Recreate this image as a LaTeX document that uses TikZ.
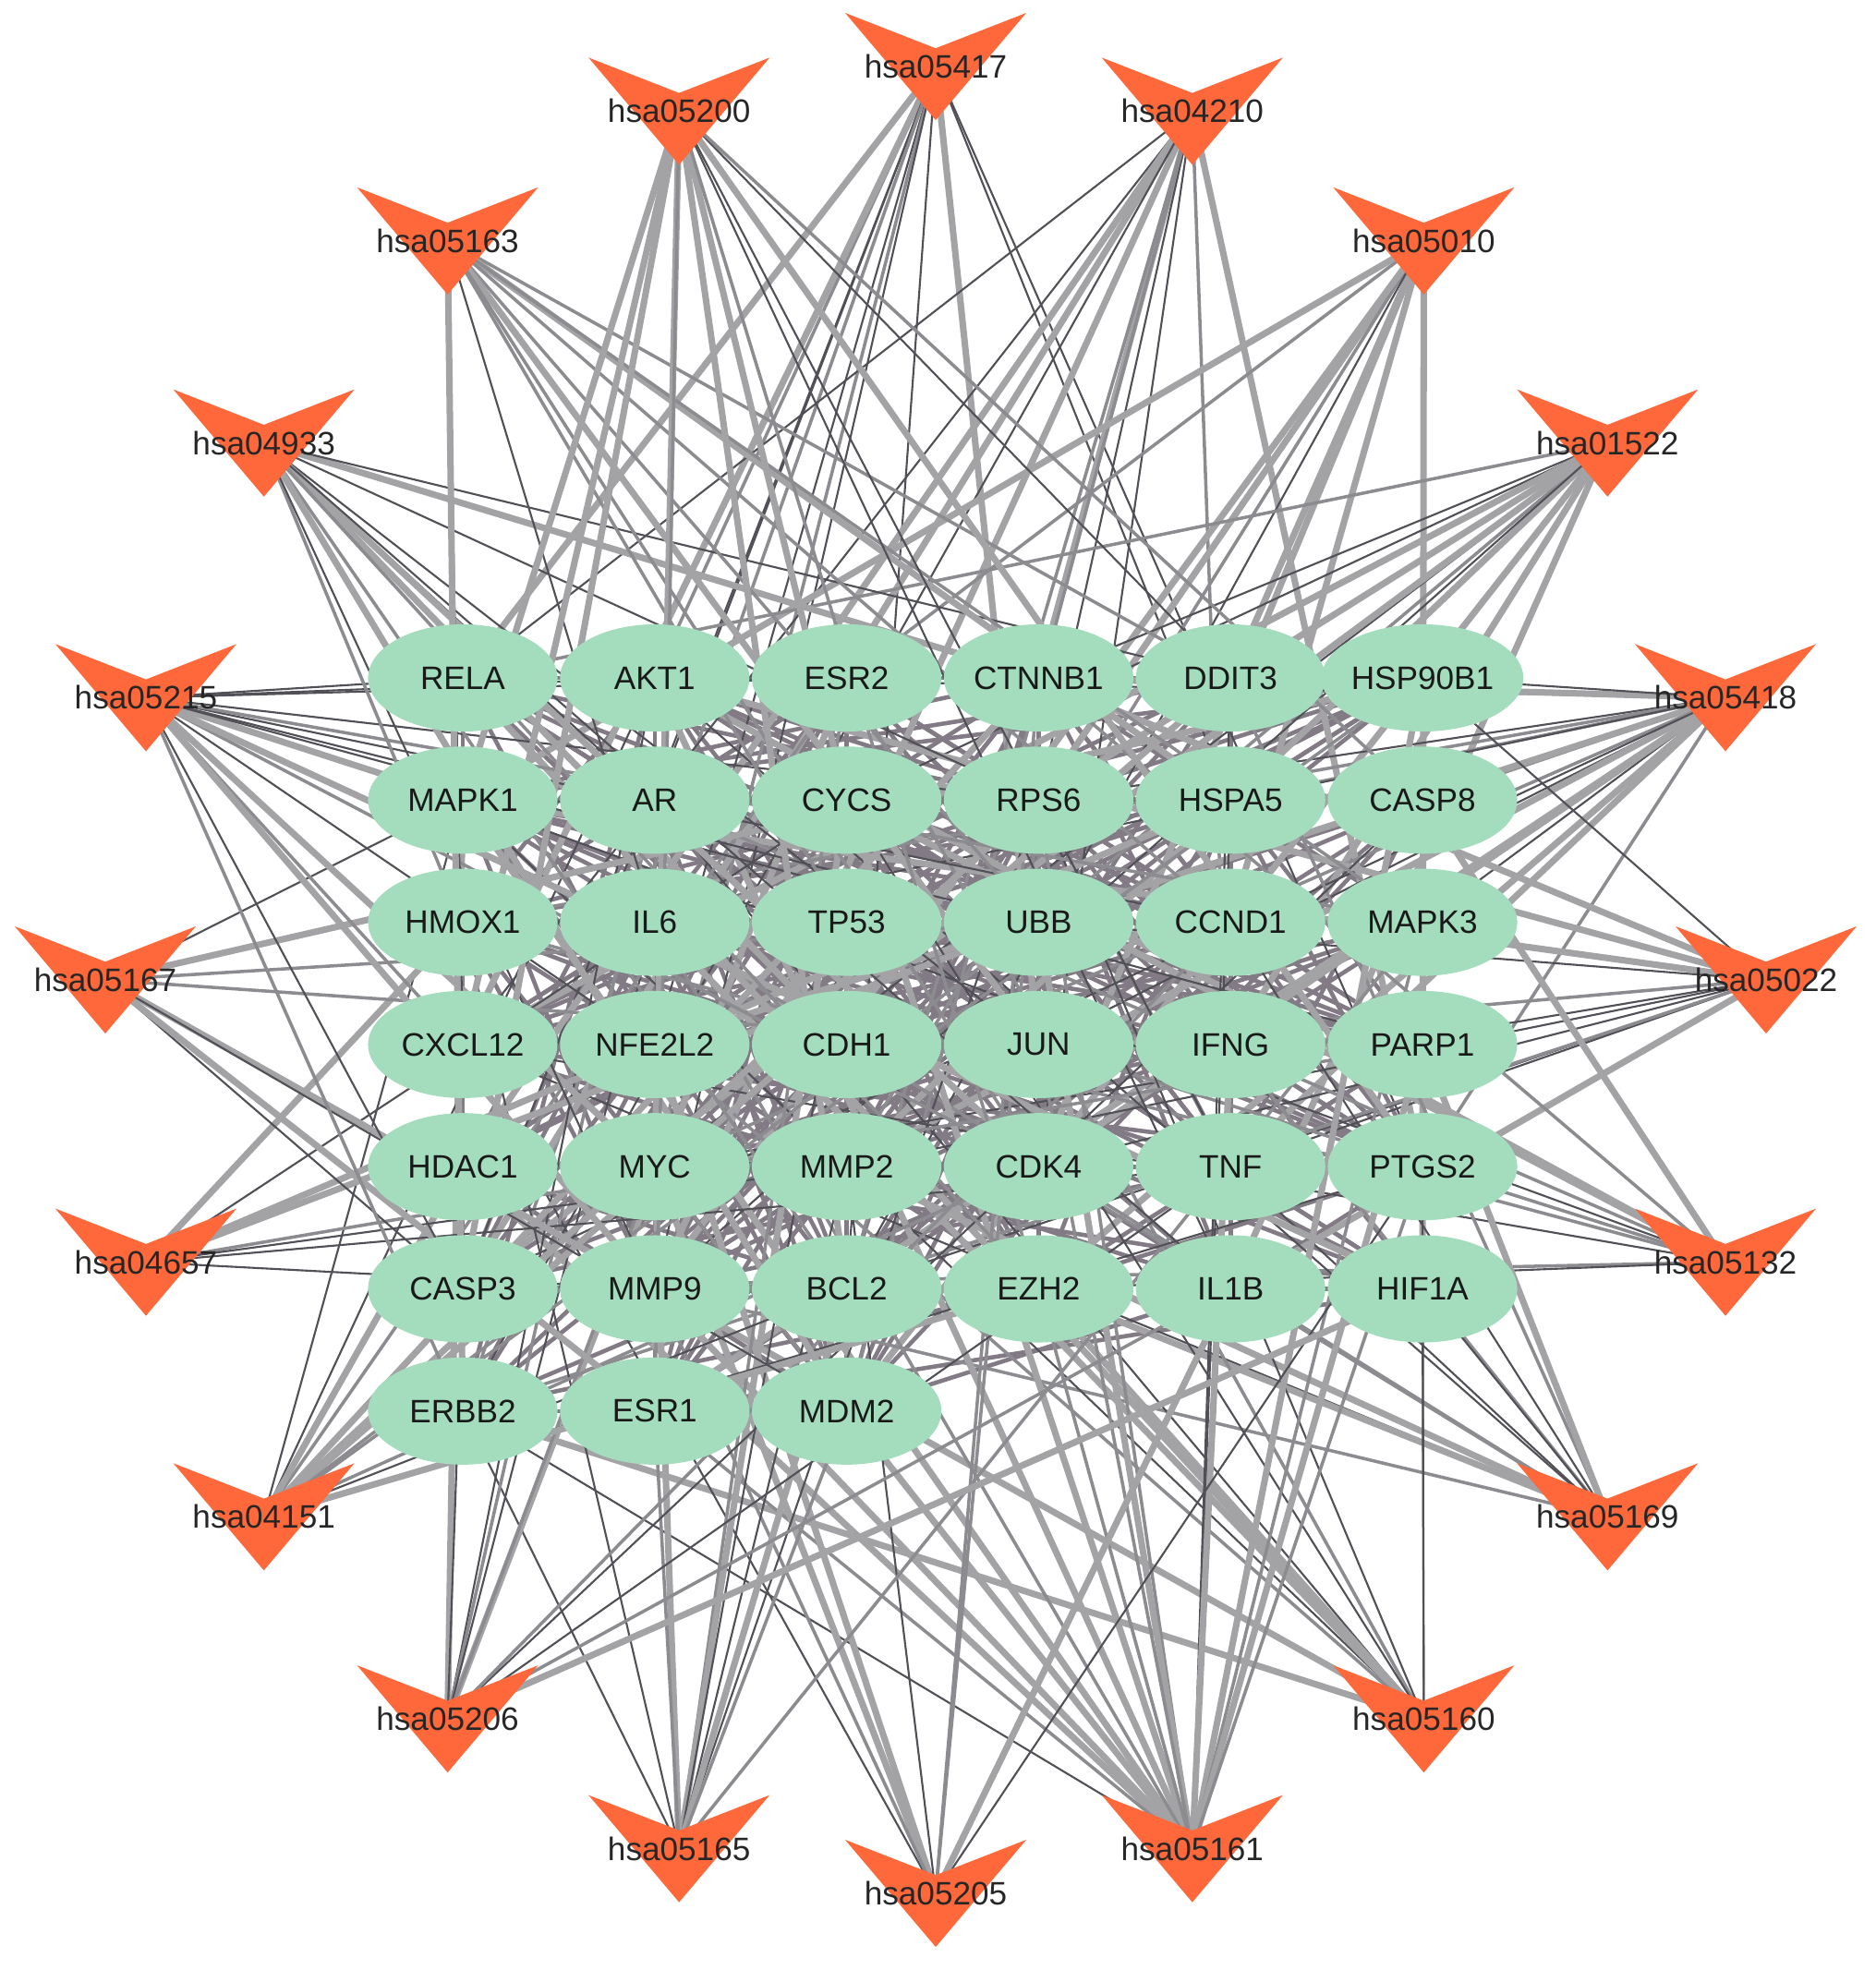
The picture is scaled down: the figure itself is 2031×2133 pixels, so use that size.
\documentclass[tikz,border=0pt]{standalone}
\usepackage{fontspec}
\setmainfont{Liberation Sans}
\usepackage{tikz}
\usetikzlibrary{calc,backgrounds,shapes.geometric}

\definecolor{genegreen}{RGB}{163,221,189}
\definecolor{keggred}{RGB}{255,104,58}
\definecolor{lnkdark}{RGB}{80,80,86}
\definecolor{lnkgray}{RGB}{140,140,144}
\definecolor{ppigray}{RGB}{130,122,132}

\begin{document}
\begin{tikzpicture}[
  x=0.01cm, y=-0.01cm,
  gene/.style={ellipse, fill=genegreen, minimum width=2.05cm, minimum height=1.16cm, inner sep=0pt, font=\fontsize{10}{12}\selectfont, text=black!90},
  kegg/.style={rectangle, minimum width=1.96cm, minimum height=1.16cm, inner sep=0pt, font=\fontsize{10}{12}\selectfont, text=black!85,
    path picture={\fill[keggred] (path picture bounding box.north west)
      -- ($(path picture bounding box.north)!0.33!(path picture bounding box.south)$)
      -- (path picture bounding box.north east) -- (path picture bounding box.south) -- cycle;}},
  lnkthin/.style={line width=0.6pt, draw=lnkdark},
  lnkmid/.style={line width=1pt, draw=lnkgray},
  lnkthick/.style={line width=2pt, draw=lnkgray!80},
  ppi/.style={line width=1.3pt, draw=ppigray}
]
\useasboundingbox (0,0) rectangle (2031,2133);

% genes
\foreach \gn [count=\k from 0] in {RELA,AKT1,ESR2,CTNNB1,DDIT3,HSP90B1,
  MAPK1,AR,CYCS,RPS6,HSPA5,CASP8,
  HMOX1,IL6,TP53,UBB,CCND1,MAPK3,
  CXCL12,NFE2L2,CDH1,JUN,IFNG,PARP1,
  HDAC1,MYC,MMP2,CDK4,TNF,PTGS2,
  CASP3,MMP9,BCL2,EZH2,IL1B,HIF1A,
  ERBB2,ESR1,MDM2}{
  \pgfmathsetmacro\gx{501+207.8*mod(\k,6)}
  \pgfmathsetmacro\gy{734+132.3*floor(\k/6)}
  \node[gene] (g\k) at (\gx,\gy) {\gn};
}

% pathways
\foreach \pn [count=\k from 0] in {hsa05417,hsa04210,hsa05010,hsa01522,hsa05418,
  hsa05022,hsa05132,hsa05169,hsa05160,hsa05161,hsa05205,hsa05165,hsa05206,
  hsa04151,hsa04657,hsa05167,hsa05215,hsa04933,hsa05163,hsa05200}{
  \pgfmathsetmacro\ang{90-18*\k}
  \node[kegg] (p\k) at ({1013+899*cos(\ang)},{1061-989*sin(\ang)}) {\pn};
}

\begin{pgfonlayer}{background}
% gene-gene links
\foreach \a in {0,...,37}{
  \pgfmathtruncatemacro\nb{\a+1}
  \foreach \b in {\nb,...,38}{
    \pgfmathtruncatemacro\h{mod(\a*\a*3+\b*\b*2+mod(\a*\b,89)*7+\a*13+\b*5,89)}
    \ifnum\h<30 \draw[ppi] (g\a.center) -- (g\b.center); \fi
  }
}
% pathway-gene links
\foreach \i in {0,...,19}{
  \foreach \j in {0,...,38}{
    \pgfmathtruncatemacro\h{mod(\i*\i*7+\j*\j*3+\i*\j*5+\j*11+\i*17,97)}
    \ifnum\h<11 \draw[lnkthick] (p\i.center) -- (g\j.center);
    \else\ifnum\h<20 \draw[lnkmid] (p\i.center) -- (g\j.center);
    \else\ifnum\h<32 \draw[lnkthin] (p\i.center) -- (g\j.center);
    \fi\fi\fi
  }
}
\end{pgfonlayer}
\end{tikzpicture}
\end{document}
